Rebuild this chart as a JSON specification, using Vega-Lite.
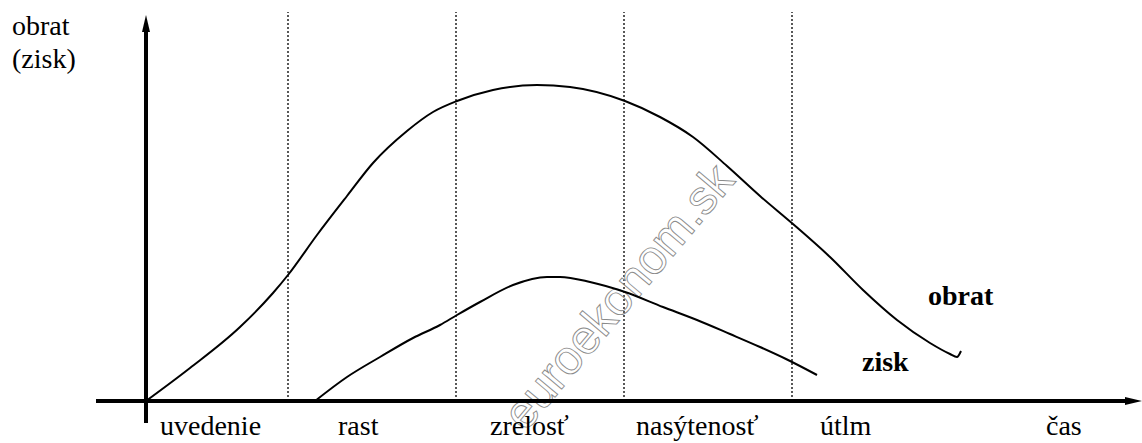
{
  "$schema": "https://vega.github.io/schema/vega-lite/v6.json",
  "width": 1142,
  "height": 443,
  "autosize": {"type": "none"},
  "padding": 0,
  "background": "white",
  "config": {"view": {"stroke": null}},
  "layer": [
    {
      "data": {"values": [{"t": 142}, {"t": 310}, {"t": 478}, {"t": 646}]},
      "mark": {"type": "rule", "color": "#222", "strokeWidth": 1.5, "strokeDash": [2, 2]},
      "encoding": {
        "x": {"field": "t", "type": "quantitative", "scale": {"domain": [-146, 996], "nice": false, "zero": false}, "axis": null},
        "y": {"datum": 0, "type": "quantitative", "scale": {"domain": [-42, 401], "nice": false, "zero": false}, "axis": null},
        "y2": {"datum": 389}
      }
    },
    {
      "data": {"values": [{"label": "euroekonom.sk", "t": 474, "v": 103}]},
      "mark": {"type": "text", "font": "Liberation Sans", "fontSize": 48, "angle": -50, "align": "center", "baseline": "middle", "fill": "#ffffff", "fillOpacity": 0, "stroke": "#8a8a8a", "strokeWidth": 0.9},
      "encoding": {
        "x": {"field": "t", "type": "quantitative", "scale": {"domain": [-146, 996], "nice": false, "zero": false}, "axis": null},
        "y": {"field": "v", "type": "quantitative", "scale": {"domain": [-42, 401], "nice": false, "zero": false}, "axis": null},
        "text": {"field": "label"}
      }
    },
    {
      "data": {"values": [
        {"series": "obrat", "i": 0, "t": 0, "v": 0},
        {"series": "obrat", "i": 1, "t": 44, "v": 33},
        {"series": "obrat", "i": 2, "t": 94, "v": 74},
        {"series": "obrat", "i": 3, "t": 127, "v": 108},
        {"series": "obrat", "i": 4, "t": 142, "v": 126},
        {"series": "obrat", "i": 5, "t": 171, "v": 166},
        {"series": "obrat", "i": 6, "t": 201, "v": 205},
        {"series": "obrat", "i": 7, "t": 227, "v": 238},
        {"series": "obrat", "i": 8, "t": 261, "v": 270},
        {"series": "obrat", "i": 9, "t": 287, "v": 289},
        {"series": "obrat", "i": 10, "t": 311, "v": 300},
        {"series": "obrat", "i": 11, "t": 347, "v": 311},
        {"series": "obrat", "i": 12, "t": 391, "v": 316},
        {"series": "obrat", "i": 13, "t": 424, "v": 314},
        {"series": "obrat", "i": 14, "t": 479, "v": 300},
        {"series": "obrat", "i": 15, "t": 514, "v": 284},
        {"series": "obrat", "i": 16, "t": 547, "v": 264},
        {"series": "obrat", "i": 17, "t": 581, "v": 235},
        {"series": "obrat", "i": 18, "t": 614, "v": 205},
        {"series": "obrat", "i": 19, "t": 647, "v": 177},
        {"series": "obrat", "i": 20, "t": 684, "v": 144},
        {"series": "obrat", "i": 21, "t": 717, "v": 111},
        {"series": "obrat", "i": 22, "t": 751, "v": 81},
        {"series": "obrat", "i": 23, "t": 784, "v": 58},
        {"series": "obrat", "i": 24, "t": 804, "v": 47},
        {"series": "obrat", "i": 25, "t": 811, "v": 44},
        {"series": "obrat", "i": 26, "t": 815, "v": 50},
        {"series": "zisk", "i": 0, "t": 169, "v": 0},
        {"series": "zisk", "i": 1, "t": 201, "v": 24},
        {"series": "zisk", "i": 2, "t": 234, "v": 44},
        {"series": "zisk", "i": 3, "t": 267, "v": 63},
        {"series": "zisk", "i": 4, "t": 294, "v": 76},
        {"series": "zisk", "i": 5, "t": 311, "v": 86},
        {"series": "zisk", "i": 6, "t": 334, "v": 99},
        {"series": "zisk", "i": 7, "t": 367, "v": 116},
        {"series": "zisk", "i": 8, "t": 401, "v": 124},
        {"series": "zisk", "i": 9, "t": 414, "v": 124},
        {"series": "zisk", "i": 10, "t": 444, "v": 119},
        {"series": "zisk", "i": 11, "t": 479, "v": 109},
        {"series": "zisk", "i": 12, "t": 517, "v": 94},
        {"series": "zisk", "i": 13, "t": 551, "v": 81},
        {"series": "zisk", "i": 14, "t": 584, "v": 67},
        {"series": "zisk", "i": 15, "t": 614, "v": 54},
        {"series": "zisk", "i": 16, "t": 640, "v": 42},
        {"series": "zisk", "i": 17, "t": 671, "v": 26}
      ]},
      "mark": {"type": "line", "color": "black", "strokeWidth": 2, "interpolate": "monotone"},
      "encoding": {
        "x": {"field": "t", "type": "quantitative", "scale": {"domain": [-146, 996], "nice": false, "zero": false}, "axis": null},
        "y": {"field": "v", "type": "quantitative", "scale": {"domain": [-42, 401], "nice": false, "zero": false}, "axis": null},
        "detail": {"field": "series"},
        "order": {"field": "i", "type": "quantitative"}
      }
    },
    {
      "data": {"values": [
        {"t": 0, "v": -22, "t2": 0, "v2": 372},
        {"t": -50, "v": 0, "t2": 986, "v2": 0}
      ]},
      "mark": {"type": "rule", "color": "black", "strokeWidth": 4},
      "encoding": {
        "x": {"field": "t", "type": "quantitative", "scale": {"domain": [-146, 996], "nice": false, "zero": false}, "axis": null},
        "y": {"field": "v", "type": "quantitative", "scale": {"domain": [-42, 401], "nice": false, "zero": false}, "axis": null},
        "x2": {"field": "t2"},
        "y2": {"field": "v2"}
      }
    },
    {
      "data": {"values": [
        {"dir": "up", "t": 0, "v": 377.5},
        {"dir": "right", "t": 987.5, "v": 0}
      ]},
      "mark": {"type": "point", "filled": true, "color": "black", "opacity": 1, "size": 289},
      "encoding": {
        "x": {"field": "t", "type": "quantitative", "scale": {"domain": [-146, 996], "nice": false, "zero": false}, "axis": null},
        "y": {"field": "v", "type": "quantitative", "scale": {"domain": [-42, 401], "nice": false, "zero": false}, "axis": null},
        "shape": {"field": "dir", "type": "nominal", "scale": {"domain": ["up", "right"], "range": ["M0,-1L0.47,1L-0.47,1Z", "M1,0L-1,0.47L-1,-0.47Z"]}, "legend": null}
      }
    },
    {
      "data": {"values": [
        {"label": "obrat", "t": -134, "v": 366},
        {"label": "(zisk)", "t": -134, "v": 333},
        {"label": "uvedenie", "t": 14, "v": -34},
        {"label": "rast", "t": 192, "v": -34},
        {"label": "zrelosť", "t": 344, "v": -34},
        {"label": "nasýtenosť", "t": 490, "v": -34},
        {"label": "útlm", "t": 674, "v": -34},
        {"label": "čas", "t": 900, "v": -34}
      ]},
      "mark": {"type": "text", "font": "Liberation Serif", "fontSize": 28, "align": "left", "baseline": "alphabetic", "color": "black"},
      "encoding": {
        "x": {"field": "t", "type": "quantitative", "scale": {"domain": [-146, 996], "nice": false, "zero": false}, "axis": null},
        "y": {"field": "v", "type": "quantitative", "scale": {"domain": [-42, 401], "nice": false, "zero": false}, "axis": null},
        "text": {"field": "label"}
      }
    },
    {
      "data": {"values": [
        {"label": "obrat", "t": 782, "v": 96},
        {"label": "zisk", "t": 716, "v": 30}
      ]},
      "mark": {"type": "text", "font": "Liberation Serif", "fontSize": 28, "fontWeight": "bold", "align": "left", "baseline": "alphabetic", "color": "black"},
      "encoding": {
        "x": {"field": "t", "type": "quantitative", "scale": {"domain": [-146, 996], "nice": false, "zero": false}, "axis": null},
        "y": {"field": "v", "type": "quantitative", "scale": {"domain": [-42, 401], "nice": false, "zero": false}, "axis": null},
        "text": {"field": "label"}
      }
    }
  ]
}
